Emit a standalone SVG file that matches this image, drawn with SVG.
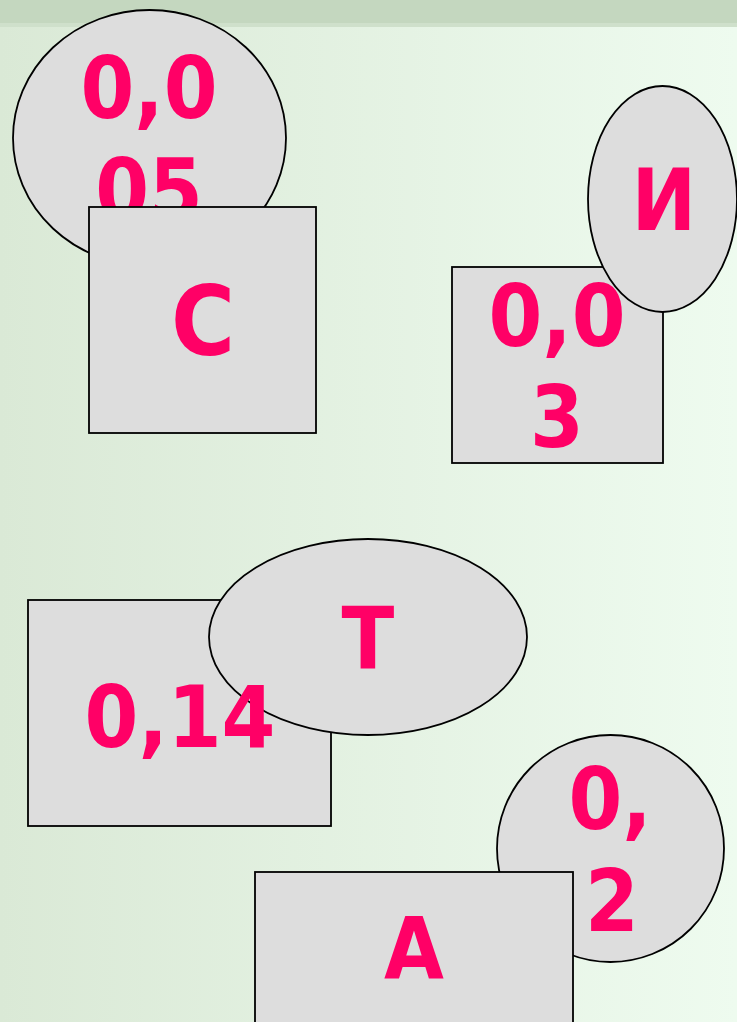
<svg xmlns="http://www.w3.org/2000/svg" width="737" height="1022" viewBox="0 0 737 1022">
<defs>
<linearGradient id="bg" x1="0" y1="0" x2="1" y2="0">
<stop offset="0" stop-color="#dae9d6"/>
<stop offset="1" stop-color="#eefbef"/>
</linearGradient>
</defs>
<style>
.s{fill:#dddddd;stroke:#000;stroke-width:1.8}
.t{fill:#ff0066;font-family:"DejaVu Sans Condensed","DejaVu Sans",sans-serif;font-stretch:condensed;font-weight:bold;font-size:86px;text-anchor:middle}
.big{font-size:97px}
</style>
<rect x="0" y="0" width="737" height="1022" fill="url(#bg)"/>
<rect x="0" y="0" width="737" height="23" fill="#c4d7bf"/>
<rect x="0" y="23" width="737" height="4" fill="#cfe0cb"/>
<g id="connectors"/>
<g id="n-0005">
<ellipse class="s" cx="149.5" cy="138" rx="136.5" ry="128"/>
<text class="t" x="149" y="118">0,0</text>
<text class="t" x="149" y="220">05</text>
</g>
<g id="n-C">
<rect class="s" x="89" y="207" width="227" height="226"/>
<text class="t big" x="203" y="355">С</text>
</g>
<g id="n-003">
<rect class="s" x="452" y="267" width="211" height="196"/>
</g>
<g id="n-I">
<ellipse class="s" cx="662.5" cy="199" rx="74.5" ry="113"/>
<text class="t" x="664" y="230">И</text>
</g>
<g id="n-003-label">
<text class="t" x="557" y="346">0,0</text>
<text class="t" x="557" y="447">3</text>
</g>
<g id="n-014">
<rect class="s" x="28" y="600" width="303" height="226"/>
</g>
<g id="n-T">
<ellipse class="s" cx="368" cy="637" rx="159" ry="98"/>
<text class="t" x="368" y="668">Т</text>
</g>
<g id="n-014-label">
<text class="t" x="180" y="747">0,14</text>
</g>
<g id="n-02">
<circle class="s" cx="610.5" cy="848.5" r="113.5"/>
<text class="t" x="610" y="829">0,</text>
<text class="t" x="612" y="931">2</text>
</g>
<g id="n-A">
<rect class="s" x="255" y="872" width="318" height="230"/>
<text class="t" x="414" y="978">А</text>
</g>
</svg>
